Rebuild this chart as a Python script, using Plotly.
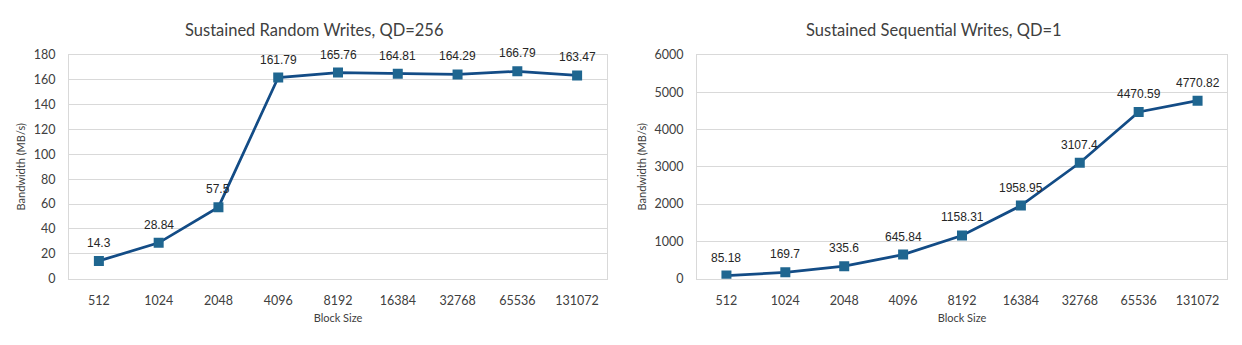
import plotly.graph_objects as go

# Block sizes (bytes) shared by both charts
block_sizes = ["512", "1024", "2048", "4096", "8192", "16384", "32768", "65536", "131072"]

# Sustained random writes at QD=256 (MB/s)
random_bw = [14.3, 28.84, 57.5, 161.79, 165.76, 164.81, 164.29, 166.79, 163.47]

# Sustained sequential writes at QD=1 (MB/s)
sequential_bw = [85.18, 169.7, 335.6, 645.84, 1158.31, 1958.95, 3107.4, 4470.59, 4770.82]

random_ticks = list(range(0, 181, 20))
sequential_ticks = list(range(0, 6001, 1000))

W, H = 1242, 345
LINE = "#134c86"
MARK = "#1f6690"
GRID = "#d9d9d9"
UI_FONT = "Lato"
LABEL_FONT = "Liberation Sans"

fig = go.Figure()

for ys, xr, yr in ((random_bw, "x", "y"), (sequential_bw, "x2", "y2")):
    fig.add_trace(go.Scatter(
        x=block_sizes, y=ys, mode="lines+markers",
        line=dict(color=LINE, width=2.75),
        marker=dict(symbol="square", size=10, color=MARK),
        xaxis=xr, yaxis=yr, showlegend=False, hoverinfo="x+y",
    ))

annotations = []
for ys, xr, yr in ((random_bw, "x", "y"), (sequential_bw, "x2", "y2")):
    # category axis: annotations placed by category index
    for i, v in enumerate(ys):
        annotations.append(dict(
            x=i, y=v, xref=xr, yref=yr, text=str(v), showarrow=False,
            xanchor="center", yanchor="middle", yshift=18,
            font=dict(family=LABEL_FONT, size=12, color="#262626"),
        ))

# Chart titles
for text, cx in (("Sustained Random Writes, QD=256", 314),
                 ("Sustained Sequential Writes, QD=1", 934)):
    annotations.append(dict(text=text, x=cx / W, y=1 - 23 / H,
                            xref="paper", yref="paper", showarrow=False,
                            xanchor="center", yanchor="middle",
                            font=dict(family=UI_FONT, size=16.5, color="#404040")))

fig.update_layout(annotations=annotations)

axis_common = dict(
    showline=True, linecolor=GRID, linewidth=1, mirror=True,
    ticks="", zeroline=False,
    tickfont=dict(family=UI_FONT, size=12.5, color="#404040"),
)
title_font = dict(family=UI_FONT, size=11, color="#404040")
n = len(block_sizes)

y_dom = [(H - 283) / H, (H - 49) / H]

fig.update_layout(
    width=W, height=H,
    margin=dict(l=0, r=0, t=0, b=0),
    paper_bgcolor="white", plot_bgcolor="white",
    xaxis=dict(domain=[69 / W, 607 / W], type="category", anchor="y",
               range=[-0.5, n - 0.5], showgrid=False, ticklabelstandoff=10,
               title=dict(text="Block Size", font=title_font, standoff=7),
               **axis_common),
    yaxis=dict(domain=y_dom, anchor="x", range=[0, 180], tickvals=random_ticks,
               showgrid=True, gridcolor=GRID, gridwidth=1, ticklabelstandoff=10,
               title=dict(text="Bandwidth (MB/s)", font=title_font, standoff=5),
               **axis_common),
    xaxis2=dict(domain=[697 / W, 1227 / W], type="category", anchor="y2",
                range=[-0.5, n - 0.5], showgrid=False, ticklabelstandoff=10,
                title=dict(text="Block Size", font=title_font, standoff=7),
                **axis_common),
    yaxis2=dict(domain=y_dom, anchor="x2", range=[0, 6000], tickvals=sequential_ticks,
                showgrid=True, gridcolor=GRID, gridwidth=1, ticklabelstandoff=10,
                title=dict(text="Bandwidth (MB/s)", font=title_font, standoff=5),
                **axis_common),
)

fig.write_html("out.html")
